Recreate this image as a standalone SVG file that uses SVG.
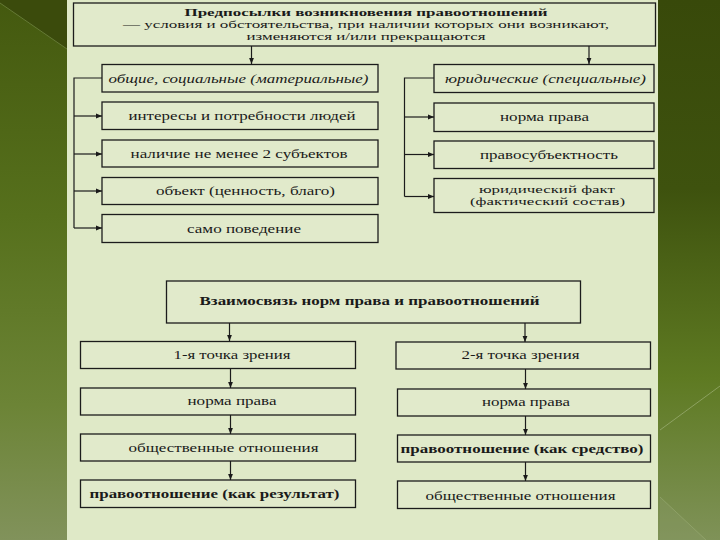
<svg xmlns="http://www.w3.org/2000/svg" width="720" height="540" viewBox="0 0 720 540">
<defs>
<linearGradient id="bg" x1="0" y1="0" x2="0" y2="1">
<stop offset="0" stop-color="#44590f"/>
<stop offset="0.4" stop-color="#56701c"/>
<stop offset="0.75" stop-color="#6c8436"/>
<stop offset="1" stop-color="#81925b"/>
</linearGradient>
<linearGradient id="bgr" x1="0" y1="0" x2="0" y2="1">
<stop offset="0" stop-color="#38490a"/>
<stop offset="0.35" stop-color="#3e520e"/>
<stop offset="0.7" stop-color="#5e7a22"/>
<stop offset="1" stop-color="#7f9258"/>
</linearGradient>
<marker id="ah" viewBox="0 0 10 10" refX="10" refY="5" markerWidth="6" markerHeight="6" markerUnits="userSpaceOnUse" orient="auto">
<path d="M0,1 L10,5 L0,9 Z" fill="#1a1a1a"/>
</marker>
</defs>
<style>
.box{fill:#e1eacb;stroke:#1c1c1c;stroke-width:1.3}
.t{font-family:"Liberation Serif","DejaVu Serif",serif;font-size:12.5px;fill:#1a1a1a;text-anchor:middle}
.s{font-size:10.2px}
.b{font-weight:bold}
.i{font-style:italic}
.c{fill:none;stroke:#1c1c1c;stroke-width:1.2}
.a{fill:none;stroke:#1c1c1c;stroke-width:1.2;marker-end:url(#ah)}
</style>
<!-- background -->
<rect x="0" y="0" width="720" height="540" fill="url(#bg)"/>
<rect x="658" y="0" width="62" height="540" fill="url(#bgr)"/>
<polygon points="0,0 67,0 67,49 0,3" fill="#3b4b0c"/>
<line x1="0" y1="3" x2="67" y2="49" stroke="#7d9350" stroke-width="1" opacity="0.6"/>
<line x1="660" y1="430" x2="720" y2="386" stroke="#a8b983" stroke-width="1" opacity="0.6"/>
<polygon points="660,497 706,540 660,540" fill="#8a9a66" opacity="0.35"/>
<line x1="660" y1="497" x2="706" y2="540" stroke="#a8b983" stroke-width="1" opacity="0.4"/>
<!-- panel -->
<rect x="67" y="0" width="591" height="540" fill="#dfe9c7"/>

<g id="connectors">
<line class="a" x1="251.5" y1="46" x2="251.5" y2="64"/>
<line class="a" x1="589" y1="46" x2="589" y2="64"/>
<polyline class="c" points="102,78 74,78 74,228"/>
<line class="a" x1="74" y1="116" x2="102" y2="116"/>
<line class="a" x1="74" y1="154" x2="102" y2="154"/>
<line class="a" x1="74" y1="191" x2="102" y2="191"/>
<line class="a" x1="74" y1="228" x2="102" y2="228"/>
<polyline class="c" points="434,78 404.5,78 404.5,196.5"/>
<line class="a" x1="404.5" y1="117" x2="434" y2="117"/>
<line class="a" x1="404.5" y1="154.5" x2="434" y2="154.5"/>
<line class="a" x1="404.5" y1="196.5" x2="434" y2="196.5"/>
<line class="a" x1="229.5" y1="323" x2="229.5" y2="341"/>
<line class="a" x1="525" y1="323" x2="525" y2="342"/>
<line class="a" x1="230.5" y1="369" x2="230.5" y2="388"/>
<line class="a" x1="230.5" y1="415" x2="230.5" y2="434"/>
<line class="a" x1="230.5" y1="461" x2="230.5" y2="480"/>
<line class="a" x1="525.5" y1="369" x2="525.5" y2="389"/>
<line class="a" x1="525.5" y1="416" x2="525.5" y2="435"/>
<line class="a" x1="525.5" y1="462" x2="525.5" y2="481"/>
</g>

<g id="n-title">
<rect class="box" x="73.5" y="3" width="582" height="43"/>
<text class="t s b" x="366" y="16" textLength="363" lengthAdjust="spacingAndGlyphs">Предпосылки возникновения правоотношений</text>
<text class="t s" x="366" y="28" textLength="486" lengthAdjust="spacingAndGlyphs">— условия и обстоятельства, при наличии которых они возникают,</text>
<text class="t s" x="366" y="40" textLength="239" lengthAdjust="spacingAndGlyphs">изменяются и/или прекращаются</text>
</g>

<g id="n-general">
<rect class="box" x="102" y="64.5" width="276" height="27.5"/>
<text class="t i" x="238.5" y="82.5" textLength="260" lengthAdjust="spacingAndGlyphs">общие, социальные (материальные)</text>
</g>
<g id="n-interests">
<rect class="box" x="102" y="102" width="276" height="27.5"/>
<text class="t" x="242" y="119.5" textLength="227" lengthAdjust="spacingAndGlyphs">интересы и потребности людей</text>
</g>
<g id="n-subjects">
<rect class="box" x="102" y="140" width="276" height="27"/>
<text class="t" x="239" y="157.5" textLength="217" lengthAdjust="spacingAndGlyphs">наличие не менее 2 субъектов</text>
</g>
<g id="n-object">
<rect class="box" x="102" y="177.5" width="276" height="27"/>
<text class="t" x="245.5" y="195" textLength="179" lengthAdjust="spacingAndGlyphs">объект (ценность, благо)</text>
</g>
<g id="n-behavior">
<rect class="box" x="102" y="214.5" width="276" height="28"/>
<text class="t" x="244" y="232.5" textLength="114" lengthAdjust="spacingAndGlyphs">само поведение</text>
</g>

<g id="n-legal">
<rect class="box" x="434" y="64.5" width="220" height="28"/>
<text class="t i" x="545.5" y="83" textLength="201" lengthAdjust="spacingAndGlyphs">юридические (специальные)</text>
</g>
<g id="n-norm">
<rect class="box" x="434" y="103" width="220" height="28.5"/>
<text class="t" x="544.5" y="120.5" textLength="89" lengthAdjust="spacingAndGlyphs">норма права</text>
</g>
<g id="n-capacity">
<rect class="box" x="434" y="141" width="220" height="27.5"/>
<text class="t" x="549" y="158.5" textLength="138" lengthAdjust="spacingAndGlyphs">правосубъектность</text>
</g>
<g id="n-fact">
<rect class="box" x="434" y="178.5" width="220" height="34"/>
<text class="t s" x="547" y="192.5" textLength="136" lengthAdjust="spacingAndGlyphs">юридический факт</text>
<text class="t s" x="547.5" y="205" textLength="155" lengthAdjust="spacingAndGlyphs">(фактический состав)</text>
</g>

<g id="n-relation">
<rect class="box" x="166.5" y="281" width="414" height="42"/>
<text class="t b" x="369.5" y="305" textLength="340" lengthAdjust="spacingAndGlyphs">Взаимосвязь норм права и правоотношений</text>
</g>

<g id="n-view1">
<rect class="box" x="80.5" y="341.5" width="275" height="27"/>
<text class="t" x="232" y="359" textLength="117" lengthAdjust="spacingAndGlyphs">1-я точка зрения</text>
</g>
<g id="n-l-norm">
<rect class="box" x="80.5" y="388" width="275" height="27"/>
<text class="t" x="232" y="405" textLength="89" lengthAdjust="spacingAndGlyphs">норма права</text>
</g>
<g id="n-l-social">
<rect class="box" x="80.5" y="434" width="275" height="27"/>
<text class="t" x="223.5" y="452" textLength="190" lengthAdjust="spacingAndGlyphs">общественные отношения</text>
</g>
<g id="n-l-result">
<rect class="box" x="80.5" y="480" width="275" height="27.5"/>
<text class="t b" x="214.5" y="498" textLength="250" lengthAdjust="spacingAndGlyphs">правоотношение (как результат)</text>
</g>

<g id="n-view2">
<rect class="box" x="396" y="342" width="254.5" height="27"/>
<text class="t" x="520.5" y="359" textLength="118" lengthAdjust="spacingAndGlyphs">2-я точка зрения</text>
</g>
<g id="n-r-norm">
<rect class="box" x="397.5" y="389" width="253" height="27"/>
<text class="t" x="526" y="406" textLength="88" lengthAdjust="spacingAndGlyphs">норма права</text>
</g>
<g id="n-r-means">
<rect class="box" x="397.5" y="435" width="253" height="27"/>
<text class="t b" x="522" y="453" textLength="243" lengthAdjust="spacingAndGlyphs">правоотношение (как средство)</text>
</g>
<g id="n-r-social">
<rect class="box" x="397.5" y="481" width="253" height="27.5"/>
<text class="t" x="520.5" y="499.5" textLength="190" lengthAdjust="spacingAndGlyphs">общественные отношения</text>
</g>
</svg>
